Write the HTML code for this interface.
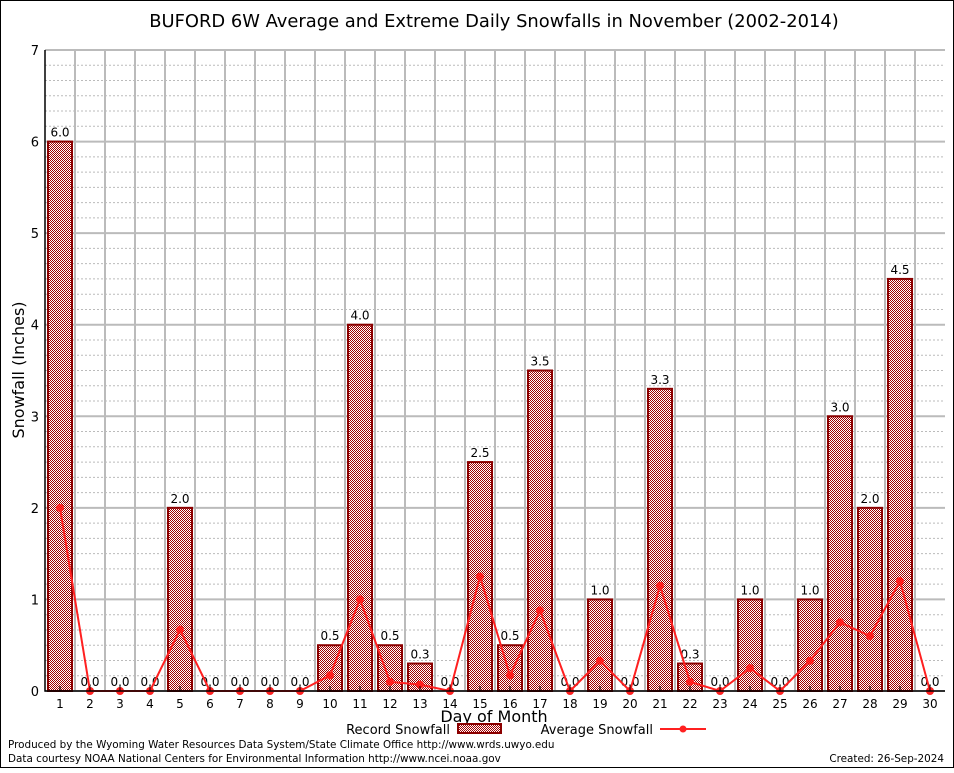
<!DOCTYPE html>
<html><head><meta charset="utf-8"><style>
body{margin:0;background:#fff;}
svg text{font-family:"DejaVu Sans","Liberation Sans",sans-serif;}
</style></head><body>
<svg id="chart" width="954" height="768" xmlns="http://www.w3.org/2000/svg">
<defs>
<pattern id="chk" width="2" height="2" patternUnits="userSpaceOnUse">
<rect width="2" height="2" fill="#fff"/><rect width="1" height="1" fill="#a00000"/><rect x="1" y="1" width="1" height="1" fill="#a00000"/>
</pattern>
</defs>
<rect x="0.5" y="0.5" width="953" height="767" fill="#fff" stroke="#000"/>
<text x="494" y="27" font-size="17.9" text-anchor="middle">BUFORD 6W Average and Extreme Daily Snowfalls in November (2002-2014)</text>
<g id="grid"></g>
<g id="bars"></g>
<g id="line"></g>
<g id="axes"></g>
<text x="24" y="370" font-size="16" text-anchor="middle" transform="rotate(-90 24 370)">Snowfall (Inches)</text>
<text x="494" y="722" font-size="16" text-anchor="middle">Day of Month</text>
<g>
<text x="450" y="734" font-size="13" text-anchor="end">Record Snowfall</text>
<rect x="458" y="724" width="43" height="9" fill="url(#chk)" stroke="#8b0000" stroke-width="2"/>
<text x="653" y="734" font-size="13" text-anchor="end">Average Snowfall</text>
<line x1="660" y1="729" x2="706" y2="729" stroke="#ff2020" stroke-width="2"/>
<circle cx="683" cy="729" r="3.5" fill="#ff2020"/>
</g>
<text x="8" y="748" font-size="10.4">Produced by the Wyoming Water Resources Data System/State Climate Office http://www.wrds.uwyo.edu</text>
<text x="8" y="762" font-size="10.4">Data courtesy NOAA National Centers for Environmental Information http://www.ncei.noaa.gov</text>
<text x="944" y="762" font-size="10.4" text-anchor="end">Created:  26-Sep-2024</text>
</svg>
<script>
const days=[1,2,3,4,5,6,7,8,9,10,11,12,13,14,15,16,17,18,19,20,21,22,23,24,25,26,27,28,29,30];
const recordSnow=[6.0,0,0,0,2.0,0,0,0,0,0.5,4.0,0.5,0.3,0,2.5,0.5,3.5,0,1.0,0,3.3,0.3,0,1.0,0,1.0,3.0,2.0,4.5,0];
const avgSnow=[2.0,0,0,0,0.67,0,0,0,0,0.17,1.0,0.1,0.07,0,1.25,0.17,0.88,0,0.33,0,1.15,0.1,0,0.25,0,0.33,0.75,0.6,1.2,0];
const yTicks=[0,1,2,3,4,5,6,7];
const NS="http://www.w3.org/2000/svg";
const L=45,R=945,T=50,B=691,yMax=7;
const xs=d=>L+(R-L)/days.length*(d-0.5);
const ys=v=>B-(B-T)*v/yMax;
function mk(tag,attrs,parent){const e=document.createElementNS(NS,tag);for(const k in attrs)e.setAttribute(k,attrs[k]);parent.appendChild(e);return e;}
const grid=document.getElementById('grid'),bars=document.getElementById('bars'),line=document.getElementById('line'),axes=document.getElementById('axes');
for(let v=0;v<yMax;v+=1/6){const y=ys(v);const l=mk('line',{x1:L,x2:R,y1:y,y2:y,stroke:'#bbb','stroke-dasharray':'2,2','stroke-width':1},grid);

}
yTicks.forEach(v=>{const y=ys(v);const l=mk('line',{x1:L,x2:R,y1:y,y2:y,stroke:'#bbb','stroke-width':2},grid);


const t=mk('text',{x:L-6,y:y+5,'font-size':13,'text-anchor':'end','font-family':'Liberation Serif,serif'},axes);t.textContent=v;

});
for(let i=1;i<days.length;i++){const x=L+(R-L)/days.length*i;const l=mk('line',{x1:x,x2:x,y1:T,y2:B,stroke:'#bbb','stroke-width':2},grid);

}
days.forEach((d,i)=>{const x=xs(d);const v=recordSnow[i];
if(v>0){const r=mk('rect',{x:x-12,y:ys(v),width:24,height:B-ys(v),fill:'url(#chk)',stroke:'#8b0000','stroke-width':2},bars);

}
const t=mk('text',{x:x,y:ys(v)-5,'font-size':12,'text-anchor':'middle'},bars);t.textContent=v.toFixed(1);


const tk=mk('line',{x1:x,x2:x,y1:B,y2:B-5,stroke:'#000'},axes);


const xl=mk('text',{x:x,y:B+17,'font-size':12,'text-anchor':'middle','font-family':'Liberation Serif,serif'},axes);xl.textContent=d;

});
const pts=days.map((d,i)=>xs(d)+','+ys(avgSnow[i])).join(' ');
const pl=mk('polyline',{points:pts,fill:'none',stroke:'#ff2020','stroke-width':2},line);


days.forEach((d,i)=>{const c=mk('circle',{cx:xs(d),cy:ys(avgSnow[i]),r:4,fill:'#ff2020'},line);

});
const ax=mk('path',{d:`M${L},${T}V${B}H${R}`,fill:'none',stroke:'#000','stroke-width':1.5},axes);


</script>
</body></html>
